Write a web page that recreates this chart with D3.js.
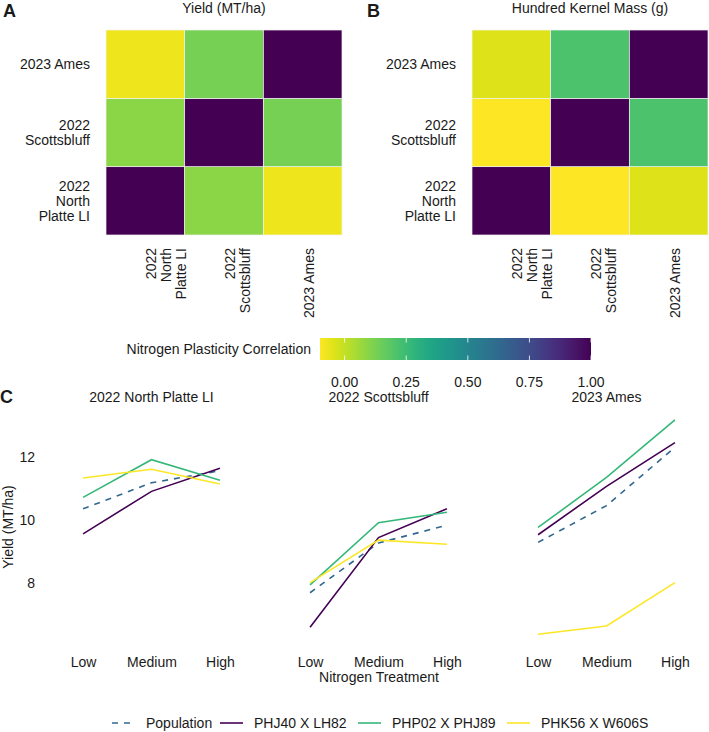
<!DOCTYPE html>
<html>
<head>
<meta charset="utf-8">
<style>
  body { margin: 0; background: #fff; }
  svg { font-family: "Liberation Sans", Arial, Helvetica, sans-serif; }
  text { fill: #1a1a1a; }
</style>
</head>
<body>
<svg id="chart" width="709" height="732"></svg>
<script src="https://d3js.org/d3.v7.min.js"></script>
<script>
// environments, in plotting order (columns left->right, rows bottom->top)
var sites = ["2022 North Platte LI", "2022 Scottsbluff", "2023 Ames"]
var siteLines = {
  "2022 North Platte LI": ["2022", "North", "Platte LI"],
  "2022 Scottsbluff": ["2022", "Scottsbluff"],
  "2023 Ames": ["2023 Ames"]
}
// correlation matrices, row i / col j in sites order
var yieldCorr = [
  [1.00, 0.09, -0.07],
  [0.09, 1.00, 0.13],
  [-0.07, 0.13, 1.00]
]
var hkmCorr = [
  [1.00, -0.10, -0.04],
  [-0.10, 1.00, 0.21],
  [-0.04, 0.21, 1.00]
]
var corrTicks = [0, 0.25, 0.5, 0.75, 1.0]

// panel C
var nLevels = ["Low", "Medium", "High"]
var groups = ["Population", "PHJ40 X LH82", "PHP02 X PHJ89", "PHK56 X W606S"]
var popYield = [[10.35, 11.17, 11.55], [7.70, 9.27, 9.83], [9.29, 10.45, 12.29]]
var phj40Yield = [[9.56, 10.90, 11.63], [6.61, 9.44, 10.35], [9.53, 11.06, 12.44]]
var php02Yield = [[10.71, 11.90, 11.25], [7.95, 9.91, 10.24], [9.76, 11.34, 13.16]]
var phk56Yield = [[11.32, 11.60, 11.13], [8.02, 9.36, 9.23], [6.39, 6.65, 8.02]]
var yTicks = [8, 10, 12]

var svg = d3.select("#chart")
var corrMin = -0.10, corrMax = 1.00
function corrColor(v) { return d3.interpolateViridis(1 - (v - corrMin) / (corrMax - corrMin)) }

// ---------- heatmaps ----------
function heatmap(mat, left, right, title, letter, letterX) {
  var x = d3.scaleBand().domain(sites).range([left, right])
  var y = d3.scaleBand().domain(sites).range([235, 30])
  var g = svg.append("g")
  var cells = []
  sites.forEach(function(r, i) { sites.forEach(function(c, j) { cells.push({r: r, c: c, v: mat[i][j]}) }) })
  g.selectAll("rect").data(cells).enter().append("rect")
    .attr("x", function(d) { return x(d.c) }).attr("y", function(d) { return y(d.r) })
    .attr("width", x.bandwidth()).attr("height", y.bandwidth())
    .attr("fill", function(d) { return corrColor(d.v) })
    .attr("stroke", "#f2f2f2").attr("stroke-width", 0.7)
  // y labels
  sites.forEach(function(s) {
    var lines = siteLines[s]
    var cy = y(s) + y.bandwidth() / 2 - (lines.length - 1) * 15 / 2
    var t = g.append("text").attr("text-anchor", "end").attr("font-size", 14)
      .attr("dominant-baseline", "central")
    lines.forEach(function(l, k) {
      t.append("tspan").attr("x", left - 16).attr("y", cy + k * 15).text(l)
    })
  })
  // x labels (rotated)
  sites.forEach(function(s) {
    var lines = siteLines[s]
    var t = g.append("text").attr("text-anchor", "end").attr("font-size", 14)
      .attr("dominant-baseline", "central")
      .attr("transform", "translate(" + (x(s) + x.bandwidth() / 2 + 6) + ",248) rotate(-90)")
    lines.forEach(function(l, k) {
      t.append("tspan").attr("x", 0).attr("y", k * 15).text(l)
    })
  })
  svg.append("text").attr("x", (left + right) / 2).attr("y", 13).attr("text-anchor", "middle")
    .attr("font-size", 14).text(title)
  svg.append("text").attr("x", letterX).attr("y", 17).attr("font-size", 18)
    .attr("font-weight", "bold").text(letter)
}
heatmap(yieldCorr, 106, 342, "Yield (MT/ha)", "A", 3)
heatmap(hkmCorr, 472, 708, "Hundred Kernel Mass (g)", "B", 367)

// ---------- colourbar ----------
var cb = d3.scaleLinear().domain([corrMin, corrMax]).range([320, 591])
var grad = svg.append("defs").append("linearGradient").attr("id", "cbgrad")
d3.range(0, 1.0001, 0.05).forEach(function(t) {
  grad.append("stop").attr("offset", t).attr("stop-color", corrColor(corrMin + t * (corrMax - corrMin)))
})
svg.append("rect").attr("x", 320).attr("y", 338).attr("width", 271).attr("height", 22)
  .attr("fill", "url(#cbgrad)")
corrTicks.forEach(function(v) {
  svg.append("line").attr("x1", cb(v)).attr("x2", cb(v)).attr("y1", 338).attr("y2", 342.5)
    .attr("stroke", "#fff").attr("stroke-width", 0.8)
  svg.append("line").attr("x1", cb(v)).attr("x2", cb(v)).attr("y1", 355.5).attr("y2", 360)
    .attr("stroke", "#fff").attr("stroke-width", 0.8)
  svg.append("text").attr("x", cb(v)).attr("y", 386.5).attr("text-anchor", "middle")
    .attr("font-size", 14).text(d3.format(".2f")(v))
})
svg.append("text").attr("x", 311).attr("y", 354).attr("text-anchor", "end").attr("font-size", 14)
  .text("Nitrogen Plasticity Correlation")

// ---------- panel C ----------
var seriesData = [popYield, phj40Yield, php02Yield, phk56Yield]
var seriesColor = ["#31688E", "#440154", "#35B779", "#FDE725"]
var seriesDash = ["6,6", null, null, null]
var panelLefts = [42, 269, 497], panelW = 219
var yC = d3.scaleLinear().domain([6.05, 13.5]).range([645, 409])

svg.append("text").attr("x", 0).attr("y", 403).attr("font-size", 18).attr("font-weight", "bold").text("C")

sites.forEach(function(site, f) {
  var xC = d3.scalePoint().domain(nLevels).range([panelLefts[f], panelLefts[f] + panelW]).padding(0.6)
  var g = svg.append("g")
  g.append("text").attr("x", xC("Medium")).attr("y", 402).attr("text-anchor", "middle")
    .attr("font-size", 14).text(site)
  var line = d3.line().x(function(d, i) { return xC(nLevels[i]) }).y(function(d) { return yC(d) })
  seriesData.forEach(function(sd, k) {
    g.append("path").datum(sd[f]).attr("d", line).attr("fill", "none")
      .attr("stroke", seriesColor[k]).attr("stroke-width", 1.6)
      .attr("stroke-dasharray", seriesDash[k])
  })
  var ax = g.append("g").attr("transform", "translate(0,645)")
    .call(d3.axisBottom(xC).tickSize(0).tickPadding(12))
  ax.select(".domain").remove()
  ax.selectAll("text").attr("font-size", 14).attr("font-family", null).attr("fill", "#1a1a1a")
})

var ay = svg.append("g").attr("transform", "translate(42,0)")
  .call(d3.axisLeft(yC).tickValues(yTicks).tickSize(0).tickPadding(7).tickFormat(d3.format("d")))
ay.select(".domain").remove()
ay.selectAll("text").attr("font-size", 14).attr("font-family", null).attr("fill", "#1a1a1a")

svg.append("text").attr("transform", "translate(13,527) rotate(-90)").attr("text-anchor", "middle")
  .attr("font-size", 14).text("Yield (MT/ha)")
svg.append("text").attr("x", 379).attr("y", 682).attr("text-anchor", "middle")
  .attr("font-size", 14).text("Nitrogen Treatment")

// ---------- legend ----------
var legX = [112, 220, 358, 507]
groups.forEach(function(name, k) {
  svg.append("line").attr("x1", legX[k]).attr("x2", legX[k] + 23).attr("y1", 723).attr("y2", 723)
    .attr("stroke", seriesColor[k]).attr("stroke-width", 1.6).attr("stroke-dasharray", seriesDash[k])
  svg.append("text").attr("x", legX[k] + 34).attr("y", 728).attr("font-size", 14).text(name)
})
</script>
</body>
</html>
